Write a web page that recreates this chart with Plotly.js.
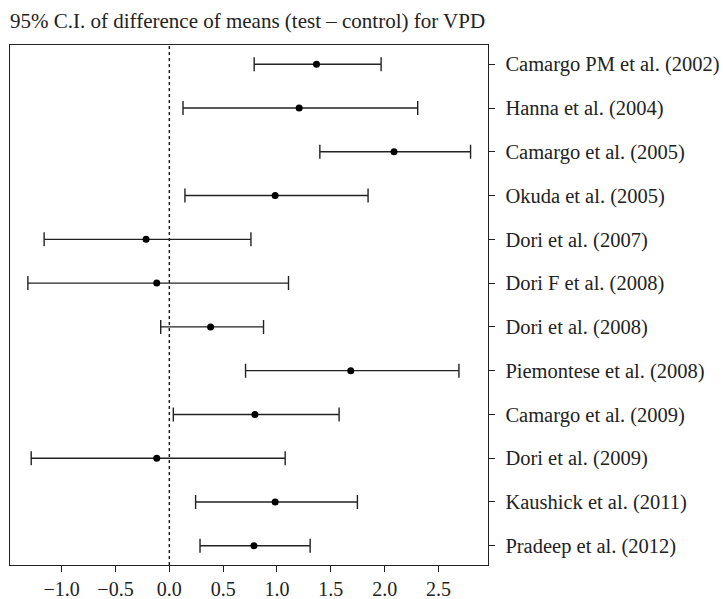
<!DOCTYPE html>
<html>
<head>
<meta charset="utf-8">
<script src="https://cdn.plot.ly/plotly-3.0.1.min.js"></script>
<style>html,body{margin:0;padding:0;background:#fff;}#chart{width:723px;height:599px;}</style>
</head>
<body>
<div id="chart"></div>
<script>
var studies = ["Camargo PM et al. (2002)", "Hanna et al. (2004)", "Camargo et al. (2005)", "Okuda et al. (2005)", "Dori et al. (2007)", "Dori F et al. (2008)", "Dori et al. (2008)", "Piemontese et al. (2008)", "Camargo et al. (2009)", "Dori et al. (2009)", "Kaushick et al. (2011)", "Pradeep et al. (2012)"];
var meanDiff = [1.367, 1.206, 2.087, 0.983, -0.216, -0.117, 0.383, 1.685, 0.795, -0.117, 0.983, 0.786];
var ciLower = [0.788, 0.127, 1.398, 0.145, -1.163, -1.314, -0.080, 0.708, 0.037, -1.283, 0.244, 0.285];
var ciUpper = [1.967, 2.307, 2.798, 1.846, 0.758, 1.107, 0.875, 2.690, 1.577, 1.076, 1.747, 1.308];
var xTicks = [-1.0, -0.5, 0.0, 0.5, 1.0, 1.5, 2.0, 2.5];

var n = studies.length;
var yPos = studies.map(function(s, i){ return n - i; });
var errPlus = meanDiff.map(function(m, i){ return ciUpper[i] - m; });
var errMinus = meanDiff.map(function(m, i){ return m - ciLower[i]; });

var font = "'Liberation Serif', 'Times New Roman', serif";

var trace = {
  type: 'scatter',
  mode: 'markers',
  x: meanDiff,
  y: yPos,
  marker: {color: '#000', size: 7},
  error_x: {
    type: 'data', symmetric: false,
    array: errPlus, arrayminus: errMinus,
    color: '#222', thickness: 1.4, width: 7
  },
  hoverinfo: 'x+y',
  showlegend: false
};

var layout = {
  width: 723, height: 599,
  paper_bgcolor: '#fff', plot_bgcolor: '#fff',
  margin: {l: 10, r: 235, t: 45, b: 34, pad: 0},
  title: {
    text: "95% C.I. of difference of means (test \u2013 control) for VPD",
    font: {family: font, size: 21, color: '#222'},
    xref: 'paper', x: 0, xanchor: 'left',
    yref: 'container', y: 0.965, yanchor: 'middle'
  },
  xaxis: {
    range: [-1.48, 2.96],
    tickvals: xTicks,
    tickformat: '.1f',
    ticks: 'outside', ticklen: 6, tickcolor: '#222', tickwidth: 1,
    showgrid: false, zeroline: false,
    showline: true, linecolor: '#222', linewidth: 1.3, mirror: true,
    tickfont: {family: font, size: 20, color: '#222'}
  },
  yaxis: {
    range: [0.56, 12.44],
    side: 'right',
    tickvals: yPos,
    ticktext: studies,
    ticks: 'outside', ticklen: 6, tickcolor: '#222', tickwidth: 1,
    ticklabelstandoff: 6,
    showgrid: false, zeroline: false,
    showline: true, linecolor: '#222', linewidth: 1.3, mirror: true,
    tickfont: {family: font, size: 20.5, color: '#222'}
  },
  shapes: [{
    type: 'line', xref: 'x', yref: 'paper',
    x0: 0, x1: 0, y0: 0, y1: 1,
    line: {color: '#222', width: 1.5, dash: 'dot'}
  }]
};

Plotly.newPlot('chart', [trace], layout, {displayModeBar: false, staticPlot: true});
</script>
</body>
</html>
